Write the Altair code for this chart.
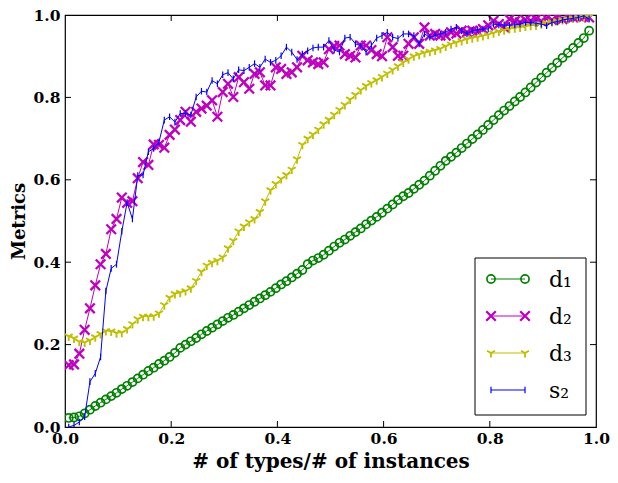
import altair as alt
import pandas as pd

# sample positions (# of types / # of instances)
x_vals = [round(0.007 + 0.01 * i, 3) for i in range(99)]

d1 = [0.022, 0.023, 0.026, 0.033, 0.042, 0.051, 0.059, 0.067, 0.075, 0.083,
      0.092, 0.100, 0.109, 0.118, 0.127, 0.136, 0.144, 0.153, 0.161, 0.170,
      0.180, 0.192, 0.200, 0.208, 0.216, 0.225, 0.233, 0.241, 0.249, 0.257,
      0.265, 0.272, 0.280, 0.288, 0.296, 0.304, 0.312, 0.320, 0.328, 0.337,
      0.346, 0.354, 0.363, 0.372, 0.381, 0.395, 0.404, 0.410, 0.418, 0.428,
      0.438, 0.447, 0.455, 0.464, 0.473, 0.482, 0.492, 0.501, 0.510, 0.520,
      0.530, 0.540, 0.551, 0.560, 0.568, 0.578, 0.588, 0.598, 0.610, 0.622,
      0.634, 0.646, 0.656, 0.666, 0.677, 0.688, 0.699, 0.710, 0.721, 0.733,
      0.745, 0.757, 0.768, 0.779, 0.790, 0.801, 0.812, 0.824, 0.836, 0.848,
      0.860, 0.872, 0.884, 0.896, 0.908, 0.920, 0.932, 0.944, 0.962]

d2 = [0.150, 0.152, 0.178, 0.236, 0.288, 0.344, 0.395, 0.420, 0.480, 0.505,
      0.557, 0.544, 0.548, 0.604, 0.643, 0.636, 0.686, 0.685, 0.678, 0.709,
      0.722, 0.745, 0.765, 0.741, 0.765, 0.773, 0.780, 0.793, 0.753, 0.813,
      0.833, 0.801, 0.849, 0.837, 0.821, 0.857, 0.861, 0.829, 0.829, 0.873,
      0.869, 0.857, 0.861, 0.873, 0.901, 0.890, 0.885, 0.881, 0.885, 0.917,
      0.925, 0.926, 0.905, 0.901, 0.897, 0.926, 0.926, 0.915, 0.905, 0.900,
      0.946, 0.922, 0.901, 0.901, 0.930, 0.946, 0.930, 0.970, 0.950, 0.954,
      0.950, 0.950, 0.958, 0.955, 0.962, 0.958, 0.962, 0.960, 0.966, 0.975,
      0.986, 0.978, 0.970, 0.990, 0.985, 0.982, 0.988, 0.986, 0.990, 0.985,
      0.992, 0.988, 0.994, 0.990, 0.996, 0.994, 0.998, 0.996, 0.994]

d3 = [0.220, 0.215, 0.207, 0.205, 0.210, 0.218, 0.226, 0.233, 0.232, 0.228,
      0.229, 0.238, 0.250, 0.262, 0.268, 0.268, 0.269, 0.276, 0.296, 0.314,
      0.323, 0.326, 0.330, 0.337, 0.355, 0.377, 0.392, 0.399, 0.404, 0.412,
      0.434, 0.452, 0.475, 0.487, 0.497, 0.505, 0.522, 0.548, 0.575, 0.590,
      0.602, 0.612, 0.625, 0.650, 0.685, 0.700, 0.710, 0.722, 0.735, 0.746,
      0.758, 0.770, 0.782, 0.795, 0.806, 0.818, 0.828, 0.835, 0.842, 0.850,
      0.858, 0.867, 0.876, 0.885, 0.893, 0.900, 0.904, 0.908, 0.911, 0.914,
      0.918, 0.924, 0.929, 0.933, 0.937, 0.941, 0.944, 0.946, 0.949, 0.952,
      0.956, 0.960, 0.963, 0.966, 0.968, 0.970, 0.972, 0.974, 0.975, 0.978,
      0.981, 0.983, 0.985, 0.988, 0.990, 0.992, 0.993, 0.995, 0.996]

s2 = [0.000, 0.004, 0.012, 0.025, 0.110, 0.130, 0.170, 0.330, 0.385, 0.395,
      0.475, 0.545, 0.505, 0.610, 0.612, 0.668, 0.676, 0.692, 0.745, 0.753,
      0.740, 0.761, 0.761, 0.757, 0.801, 0.815, 0.813, 0.841, 0.833, 0.855,
      0.860, 0.845, 0.867, 0.865, 0.873, 0.882, 0.873, 0.893, 0.885, 0.890,
      0.901, 0.922, 0.910, 0.892, 0.905, 0.913, 0.920, 0.922, 0.922, 0.938,
      0.915, 0.910, 0.944, 0.946, 0.930, 0.925, 0.910, 0.926, 0.944, 0.950,
      0.958, 0.946, 0.943, 0.954, 0.954, 0.950, 0.930, 0.954, 0.946, 0.950,
      0.954, 0.958, 0.966, 0.970, 0.962, 0.954, 0.962, 0.964, 0.966, 0.966,
      0.978, 0.976, 0.976, 0.975, 0.976, 0.978, 0.982, 0.982, 0.980, 0.978,
      0.974, 0.982, 0.984, 0.988, 0.990, 0.992, 0.994, 0.998, 0.990]

axis_ticks = [0.0, 0.2, 0.4, 0.6, 0.8, 1.0]
inner_ticks = [0.2, 0.4, 0.6, 0.8]
series_labels = ["d\u2081", "d\u2082", "d\u2083", "s\u2082"]

W, H = 531, 412
BOLD_FONT = "DejaVu Serif"
GREEN, MAGENTA, YELLOW, BLUE = "#008000", "#bf00bf", "#bfbf00", "#0000ff"
X_PATH = "M-1,-1L1,1M-1,1L1,-1"
TRI_PATH = "M0,0L0,1M0,0L-0.866,-0.5M0,0L0.866,-0.5"
VBAR_PATH = "M0,-1L0,1"

xs = alt.Scale(domain=[0, 1], nice=False, zero=False)
ys = alt.Scale(domain=[0, 1], nice=False, zero=False)
x_axis = alt.Axis(values=axis_ticks, format=".1f", title="# of types/# of instances")
y_axis = alt.Axis(values=axis_ticks, format=".1f", title="Metrics")


def X(field):
    return alt.X(field, type="quantitative", scale=xs, axis=x_axis)


def Y(field):
    return alt.Y(field, type="quantitative", scale=ys, axis=y_axis)


STYLE = {
    "d1": (GREEN, "circle", 66, 1.7),
    "d2": (MAGENTA, X_PATH, 92, 2.3),
    "d3": (YELLOW, TRI_PATH, 84, 1.9),
    "s2": (BLUE, VBAR_PATH, 44, 1.2),
}


def series(vals, key):
    color, shape, size, sw = STYLE[key]
    src = alt.Chart(pd.DataFrame({"x": x_vals, "y": vals}))
    line = src.mark_line(color=color, strokeWidth=1, clip=True).encode(x=X("x"), y=Y("y"))
    pts = src.mark_point(shape=shape, filled=False, color=color, size=size,
                         strokeWidth=sw, opacity=1, clip=True).encode(x=X("x"), y=Y("y"))
    return [line, pts]


layers = []
layers += series(d1, "d1")
layers += series(d2, "d2")
layers += series(d3, "d3")
layers += series(s2, "s2")

# inward tick marks on all four sides
xt = alt.Chart(pd.DataFrame({"x": inner_ticks, "y": inner_ticks}))
layers.append(xt.mark_rule(color="black", strokeWidth=1).encode(
    x=X("x"), y=alt.value(H), y2=alt.value(H - 6)))
layers.append(xt.mark_rule(color="black", strokeWidth=1).encode(
    x=X("x"), y=alt.value(0), y2=alt.value(6)))
layers.append(xt.mark_rule(color="black", strokeWidth=1).encode(
    y=Y("y"), x=alt.value(0), x2=alt.value(6)))
layers.append(xt.mark_rule(color="black", strokeWidth=1).encode(
    y=Y("y"), x=alt.value(W), x2=alt.value(W - 6)))

# legend
one = alt.Chart(pd.DataFrame({"k": [0]}))
layers.append(one.mark_rect(fill="white", stroke="black", strokeWidth=1).encode(
    x=alt.value(410), x2=alt.value(521), y=alt.value(243), y2=alt.value(400)))
row_y = [264, 301, 338, 375]
for key, ry, lab in zip(["d1", "d2", "d3", "s2"], row_y, series_labels):
    color, shape, size, sw = STYLE[key]
    layers.append(one.mark_rule(color=color, strokeWidth=1).encode(
        x=alt.value(426), x2=alt.value(460), y=alt.value(ry)))
    for px in (426, 460):
        layers.append(one.mark_point(shape=shape, filled=False, color=color, size=size,
                                     strokeWidth=sw, opacity=1).encode(
            x=alt.value(px), y=alt.value(ry)))
    layers.append(one.mark_text(text=lab, font="DejaVu Serif", fontSize=22,
                                align="left", baseline="middle", color="black").encode(
        x=alt.value(484), y=alt.value(ry + 1)))

chart = alt.layer(*layers).properties(
    width=W, height=H,
    autosize=alt.AutoSizeParams(type="none"),
    padding={"left": 57, "top": 7, "right": 14, "bottom": 48},
).configure_view(stroke="black", strokeWidth=1.2).configure_axis(
    grid=False, ticks=False, domain=False,
    labelFont=BOLD_FONT, labelFontWeight="bold", labelFontSize=15.5, labelColor="black",
    titleFont=BOLD_FONT, titleFontWeight="bold", titleColor="black",
    labelFlush=False, labelOverlap=False,
).configure_axisX(labelPadding=4, titlePadding=5, titleFontSize=20).configure_axisY(
    labelPadding=5, titlePadding=5, titleFontSize=18)

chart.save("out.html", embed_options={"renderer": "svg", "actions": False})
